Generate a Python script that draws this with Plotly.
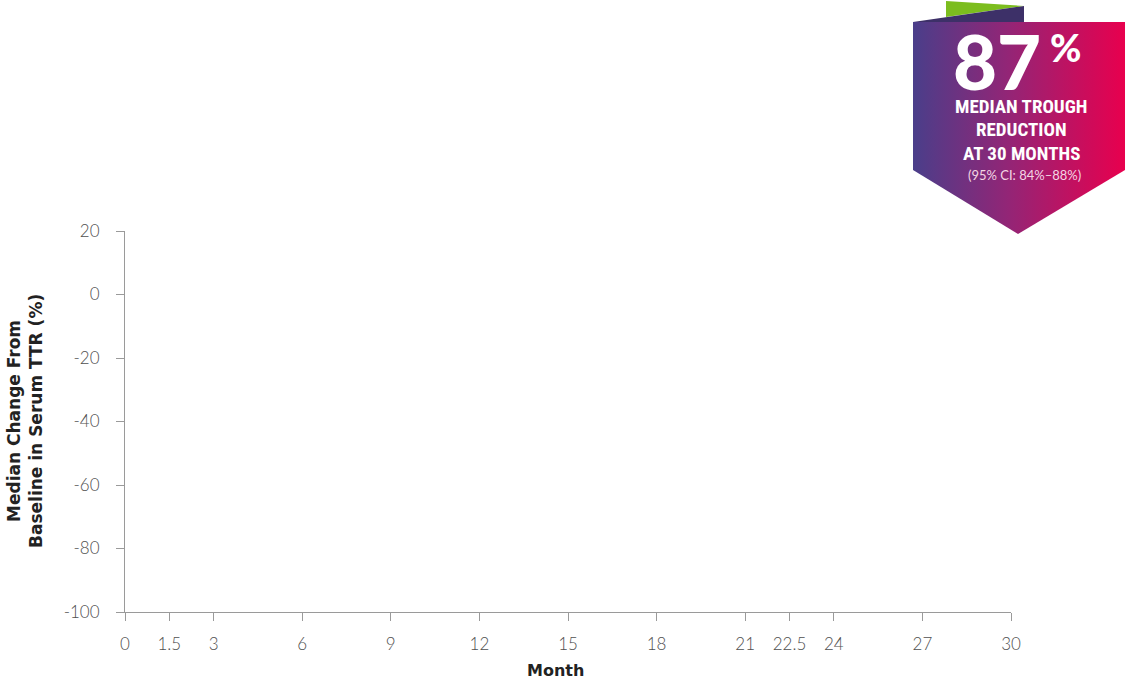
import plotly.graph_objects as go

W, H = 1128, 685

# axis values
month_ticks = [0, 1.5, 3, 6, 9, 12, 15, 18, 21, 22.5, 24, 27, 30]
month_labels = ["0", "1.5", "3", "6", "9", "12", "15", "18", "21", "22.5", "24", "27", "30"]
ttr_ticks = [20, 0, -20, -40, -60, -80, -100]
ttr_labels = ["20", "0", "-20", "-40", "-60", "-80", "-100"]

# badge text
badge_value = "87"
badge_lines = ["MEDIAN TROUGH", "REDUCTION", "AT 30 MONTHS"]
badge_ci = "(95% CI: 84%–88%)"

tick_font = dict(family="Lato, Open Sans, sans-serif", size=17, color="#505050", weight=300)
axis_col = "#9a9a9a"

fig = go.Figure()

# empty main plot (no series shown yet)
fig.add_trace(go.Scatter(x=[None], y=[None], mode="lines", showlegend=False))

# badge drawn on a pixel overlay axis
px_x = [913, 1125, 1125, 1018, 913, 913]
px_y = [22, 22, 170, 234, 170, 22]
fig.add_trace(go.Scatter(
    x=px_x, y=px_y, xaxis="x2", yaxis="y2", mode="lines", fill="toself",
    line=dict(width=0), hoverinfo="skip", showlegend=False,
    fillgradient=dict(type="horizontal",
                      colorscale=[[0, "#4a3e8a"], [0.45, "#932576"], [1, "#e8004e"]]),
))
fig.add_trace(go.Scatter(
    x=[946, 1024, 946, 946], y=[1, 6, 17, 1], xaxis="x2", yaxis="y2",
    mode="lines", fill="toself", fillcolor="#7cbd1e", line=dict(width=0),
    hoverinfo="skip", showlegend=False,
))
fig.add_trace(go.Scatter(
    x=[913, 1024, 1024, 913], y=[22, 6, 22, 22], xaxis="x2", yaxis="y2",
    mode="lines", fill="toself", fillcolor="#3d3068", line=dict(width=0),
    hoverinfo="skip", showlegend=False,
))

x0, x1 = 125 / W, 1011 / W
y0, y1 = 1 - 612 / H, 1 - 231 / H

fig.update_layout(
    width=W, height=H,
    margin=dict(l=0, r=0, t=0, b=0),
    paper_bgcolor="white", plot_bgcolor="rgba(0,0,0,0)",
    xaxis=dict(domain=[x0, x1], range=[0, 30], tickvals=month_ticks, ticktext=month_labels,
               showgrid=False, zeroline=False, showline=True, linecolor=axis_col, linewidth=1,
               ticks="outside", ticklen=8, tickcolor=axis_col, tickfont=tick_font,
               ticklabelstandoff=9, automargin=False),
    yaxis=dict(domain=[y0, y1], range=[-100, 20], tickvals=ttr_ticks, ticktext=ttr_labels,
               showgrid=False, zeroline=False, showline=True, linecolor=axis_col, linewidth=1,
               ticks="outside", ticklen=8, tickcolor=axis_col, tickfont=tick_font,
               ticklabelstandoff=13, automargin=False),
    xaxis2=dict(domain=[0, 1], range=[0, W], visible=False, anchor="y2", fixedrange=True),
    yaxis2=dict(domain=[0, 1], range=[H, 0], visible=False, anchor="x2", fixedrange=True),
    showlegend=False,
)

# axis titles
title_font = dict(family="DejaVu Sans, Noto Sans, sans-serif", size=17, color="#222222", weight=700)
fig.add_annotation(x=25, y=421, xref="x2", yref="y2", text="Median Change From<br>Baseline in Serum TTR (%)",
                   textangle=-90, showarrow=False, font=title_font, align="center")
fig.add_annotation(x=555, y=670, xref="x2", yref="y2", text="Month",
                   showarrow=False, font=dict(title_font, size=16))

# badge text
fig.add_annotation(x=997, y=60, xref="x2", yref="y2", text=badge_value, showarrow=False,
                   font=dict(family="Lato, Open Sans, sans-serif", size=76, color="white", weight=900))
fig.add_annotation(x=1065, y=47, xref="x2", yref="y2", text="%", showarrow=False,
                   font=dict(family="Lato, Open Sans, sans-serif", size=38, color="white", weight=900))
for i, line in enumerate(badge_lines):
    fig.add_annotation(x=1021, y=106 + i * 23.5, xref="x2", yref="y2", text=line, showarrow=False,
                       font=dict(family="Liberation Sans Narrow, Roboto Condensed, sans-serif",
                                 size=19, color="white", weight=700))
fig.add_annotation(x=1024, y=175, xref="x2", yref="y2", text=badge_ci, showarrow=False,
                   font=dict(family="Lato, Open Sans, sans-serif", size=13, color="#f4d6e4"))

fig.write_html("out.html", config={"displayModeBar": False},
               post_script="document.body.style.margin='0';")
